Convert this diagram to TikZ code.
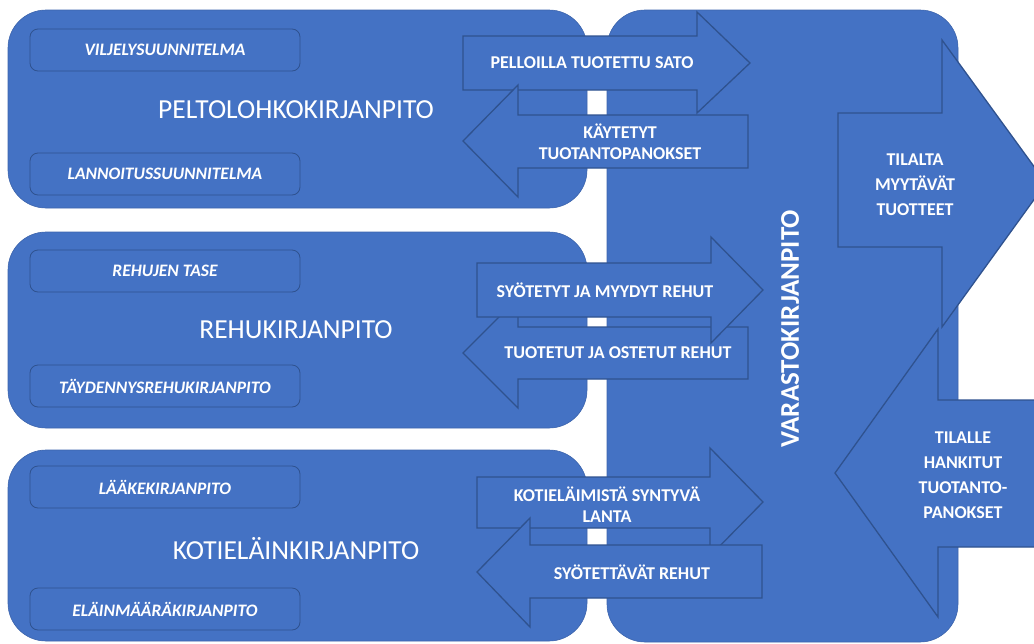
\documentclass[tikz,border=0pt]{standalone}
\usepackage{fontspec}
\setmainfont{Carlito}
\definecolor{fillblue}{HTML}{4472C4}
\definecolor{edgeblue}{HTML}{2F528F}
\begin{document}
\begin{tikzpicture}[x=1pt,y=-1pt,
  bigbox/.style={fill=fillblue, draw=fillblue!88!black, line width=0.6pt, rounded corners=38pt, inner sep=0pt},
  subbox/.style={fill=fillblue, draw=edgeblue, line width=0.8pt, rounded corners=8pt, minimum width=270pt, minimum height=42pt, inner sep=0pt, text=white, font=\fontsize{17.5}{21}\selectfont\bfseries\itshape},
  arrowshape/.style={fill=fillblue, draw=edgeblue, line width=1.3pt, line join=miter},
  mainlabel/.style={text=white, font=\fontsize{27.5}{33}\selectfont},
  arrowlabel/.style={text=white, font=\fontsize{18}{21}\selectfont\bfseries, align=center, inner sep=0pt},
  biglabel/.style={text=white, font=\fontsize{18}{25}\selectfont\bfseries, align=center, inner sep=0pt},
]
\useasboundingbox (0,0) rectangle (1034,643);
\clip (0,0) rectangle (1034,643);

% left blocks
\node[bigbox, minimum width=579pt, minimum height=198pt] (pelto) at (297.5,109) {};
\node[bigbox, minimum width=579pt, minimum height=196pt] (rehu) at (297.5,330) {};
\node[bigbox, minimum width=579pt, minimum height=191pt] (koti) at (297.5,545.5) {};
% storage block
\node[bigbox, minimum width=351pt, minimum height=632pt] (varasto) at (782.5,326) {};

% sub boxes
\node[subbox] (vilj) at (165,50) {VILJELYSUUNNITELMA};
\node[subbox] (lann) at (165,174) {LANNOITUSSUUNNITELMA};
\node[subbox] (tase) at (165,271) {REHUJEN TASE};
\node[subbox] (tayd) at (165,386) {TÄYDENNYSREHUKIRJANPITO};
\node[subbox] (laake) at (165,487) {LÄÄKEKIRJANPITO};
\node[subbox] (elain) at (165,609) {ELÄINMÄÄRÄKIRJANPITO};

% main labels
\node[mainlabel] (peltolbl) at (296,110) {PELTOLOHKOKIRJANPITO};
\node[mainlabel] (rehulbl) at (296,330) {REHUKIRJANPITO};
\node[mainlabel] (kotilbl) at (296,549) {KOTIELÄINKIRJANPITO};

% big outer arrows
\draw[arrowshape] (838,113) -- (942,113) -- (942,40) -- (1046,183) -- (942,327) -- (942,247) -- (838,247) -- cycle;
\draw[arrowshape] (1060,400) -- (938,400) -- (938,329) -- (835,473) -- (938,617) -- (938,547) -- (1060,547) -- cycle;

% pair 1
\draw[arrowshape] (463,36) -- (697,36) -- (697,12) -- (750,63) -- (697,113) -- (697,90) -- (463,90) -- cycle;
\draw[arrowshape] (748,115) -- (518,115) -- (518,85) -- (463,141) -- (518,197) -- (518,168) -- (748,168) -- cycle;
% pair 2
\draw[arrowshape] (748,327) -- (518,327) -- (518,298) -- (463,353) -- (518,408) -- (518,379) -- (748,379) -- cycle;
\draw[arrowshape] (477,263) -- (711,263) -- (711,237) -- (763,290) -- (711,343) -- (711,317) -- (477,317) -- cycle;
% pair 3
\draw[arrowshape] (477,477) -- (710,477) -- (710,448) -- (763,502) -- (710,556) -- (710,528) -- (477,528) -- cycle;
\draw[arrowshape] (762,545) -- (530,545) -- (530,518) -- (477,572) -- (530,627) -- (530,598) -- (762,598) -- cycle;

% arrow labels
\node[arrowlabel] (sato) at (592,63) {PELLOILLA TUOTETTU SATO};
\node[arrowlabel] (kaytetyt) at (620,142) {KÄYTETYT\\TUOTANTOPANOKSET};
\node[arrowlabel] (syotetyt) at (605,290) {SYÖTETYT JA MYYDYT REHUT};
\node[arrowlabel] (tuotetut) at (618,353) {TUOTETUT JA OSTETUT REHUT};
\node[arrowlabel] (lanta) at (607,505) {KOTIELÄIMISTÄ SYNTYVÄ\\LANTA};
\node[arrowlabel] (syotettavat) at (632,572) {SYÖTETTÄVÄT REHUT};

% storage label
\node[text=white, font=\fontsize{27}{31}\selectfont\bfseries, rotate=90, inner sep=0pt] (varastolbl) at (790,329) {VARASTOKIRJANPITO};

% outer labels
\node[biglabel] (myytavat) at (915,185) {TILALTA\\MYYTÄVÄT\\TUOTTEET};
\node[biglabel] (hankitut) at (963,475) {TILALLE\\HANKITUT\\TUOTANTO-\\PANOKSET};
\end{tikzpicture}
\end{document}
